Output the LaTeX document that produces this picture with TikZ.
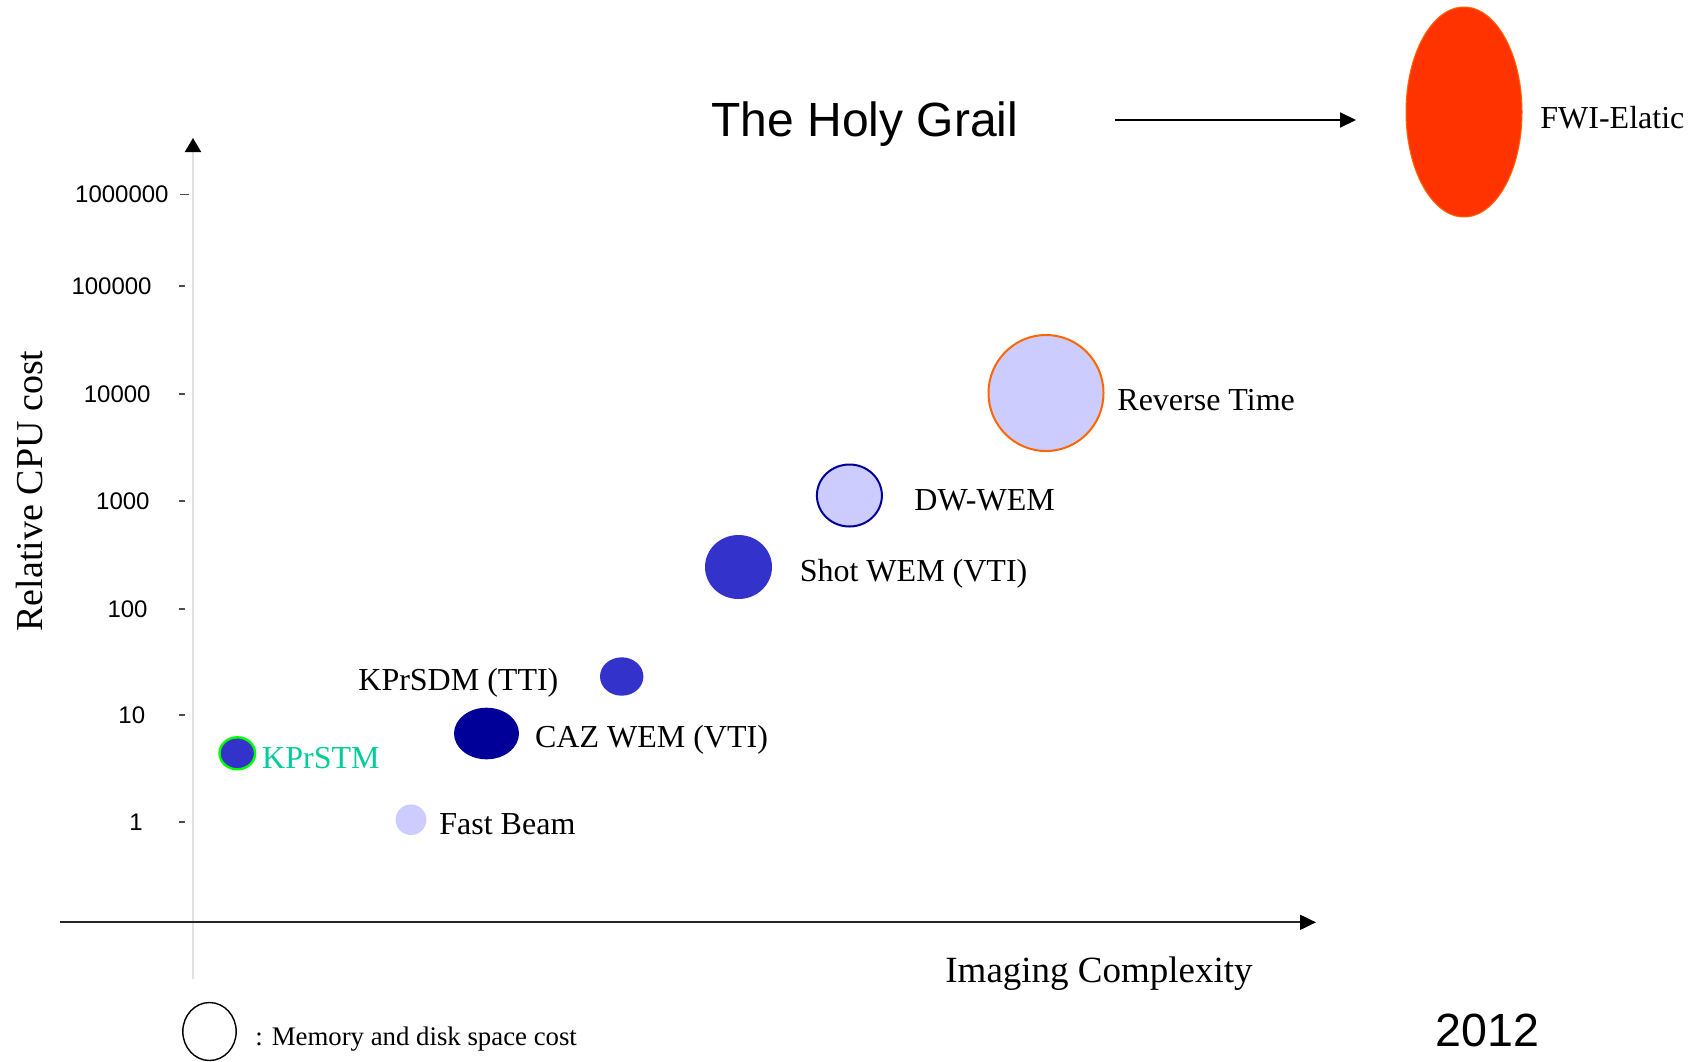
\documentclass[tikz,border=0pt]{standalone}
\usepackage{fontspec}
\setmainfont{Liberation Serif}
\newfontfamily\arialfont{Liberation Sans}
\usetikzlibrary{shapes.geometric,arrows.meta}

\definecolor{paleblue}{HTML}{CCCCFF}
\definecolor{midblue}{HTML}{3333CC}
\definecolor{navyblue}{HTML}{000099}
\definecolor{flame}{HTML}{FF3300}
\definecolor{orangeedge}{HTML}{FF6600}
\definecolor{limeedge}{HTML}{00FF00}
\definecolor{tealtext}{HTML}{00CC99}
\definecolor{axisgray}{HTML}{E2E2E2}

\tikzset{
  bubble/.style={ellipse, inner sep=0pt, outer sep=0pt},
  ptlabel/.style={anchor=base west, inner sep=0pt, font=\fontsize{16}{18}\selectfont},
  ticklabel/.style={anchor=east, inner sep=0pt, font=\arialfont\fontsize{12}{14}\selectfont},
  tickmark/.style={draw=black!70, line width=0.6pt},
}

\begin{document}
\begin{tikzpicture}[x=0.5pt, y=-0.5pt]
\useasboundingbox (0,0) rectangle (1702,1061);

% ---- vertical axis (light line, black tip) ----
\coordinate (yfoot) at (193,979);
\coordinate (ytop) at (193,138);
\draw[draw=axisgray, line width=1pt,
      -{Triangle[length=7pt,width=8pt,color=black]}] (yfoot) -- (ytop);

% tick marks and their values
\foreach \yy/\lab/\xr/\tl/\tr in {
    194.5/1000000/169/180/189,
    286/100000/152/179/185,
    394/10000/151/179/185,
    501/1000/150/179/185,
    609/100/148/179/185,
    715/10/145.5/179/185,
    822/1/143/179/185} {
  \coordinate (tka\lab) at (\tl,\yy);
  \coordinate (tkb\lab) at (\tr,\yy);
  \draw[tickmark] (tka\lab) -- (tkb\lab);
  \node[ticklabel] (tick\lab) at (\xr,\yy) {\lab};
}

\node[rotate=90, anchor=base, inner sep=0pt, font=\fontsize{19}{21}\selectfont]
  (ylabel) at (42,491) {Relative CPU cost};

% ---- horizontal axis ----
\coordinate (xstart) at (60,922.3);
\coordinate (xend) at (1316,922.3);
\draw[draw=black!85, line width=1pt,
      -{Triangle[length=8pt,width=7.5pt,color=black]}] (xstart) -- (xend);
\node[anchor=base west, inner sep=0pt, font=\fontsize{18.5}{20}\selectfont]
  (xlabel) at (945,982.7) {Imaging Complexity};

% ---- title and pointer to the top method ----
\node[anchor=base west, inner sep=0pt, font=\arialfont\fontsize{24}{28}\selectfont]
  (title) at (711,136.7) {The Holy Grail};
\coordinate (grailA) at (1115,120);
\coordinate (grailB) at (1356,120);
\draw[line width=1pt, -{Triangle[length=8pt,width=7.5pt]}] (grailA) -- (grailB);

% ---- bubbles: position = cost vs complexity, size = memory ----
\node[bubble, fill=flame, draw=orangeedge, line width=0.5pt,
      minimum width=58pt, minimum height=105pt] (fwi) at (1464,112) {};
\node[ptlabel] (fwilab) at (1540,128) {FWI-Elatic};

\node[bubble, fill=paleblue, draw=orangeedge, line width=1pt,
      minimum width=57.5pt, minimum height=58pt] (rtm) at (1046,393) {};
\node[ptlabel] (rtmlab) at (1117,410) {Reverse Time};

\node[bubble, fill=paleblue, draw=navyblue, line width=1pt,
      minimum width=32.5pt, minimum height=31pt] (dw) at (849.4,495.5) {};
\node[ptlabel] (dwlab) at (914,510) {DW-WEM};

\node[bubble, fill=midblue,
      minimum width=33.5pt, minimum height=32pt] (shot) at (738.5,567) {};
\node[ptlabel] (shotlab) at (799.4,581.7) {Shot WEM (VTI)};

\node[bubble, fill=midblue,
      minimum width=21.7pt, minimum height=19.2pt] (sdm) at (621.7,676.5) {};
\node[ptlabel] (sdmlab) at (358,690) {KPrSDM (TTI)};

\node[bubble, fill=navyblue,
      minimum width=32.5pt, minimum height=25.8pt] (caz) at (486.5,733.5) {};
\node[ptlabel] (cazlab) at (534.7,747.3) {CAZ WEM (VTI)};

\node[bubble, fill=midblue, draw=limeedge, line width=1.2pt,
      minimum width=17.8pt, minimum height=16pt] (stm) at (237.3,753.3) {};
\node[ptlabel, text=tealtext] (stmlab) at (261.8,768.3) {KPrSTM};

\node[bubble, fill=paleblue,
      minimum width=15.4pt, minimum height=15.3pt] (fb) at (411,819.7) {};
\node[ptlabel] (fblab) at (439,834.3) {Fast Beam};

% ---- legend ----
\node[bubble, draw=black, line width=0.7pt,
      minimum width=26.7pt, minimum height=29pt] (legend) at (209.5,1031.5) {};
\node[anchor=base west, inner sep=0pt, font=\fontsize{13.4}{15}\selectfont]
  (legendtext) at (255,1045) {: Memory and disk space cost};

% ---- year ----
\node[anchor=base west, inner sep=0pt, font=\arialfont\fontsize{23.3}{26}\selectfont]
  (year) at (1435,1046.7) {2012};
\end{tikzpicture}
\end{document}
